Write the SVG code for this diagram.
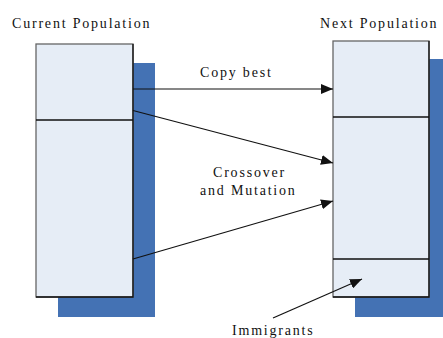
<svg xmlns="http://www.w3.org/2000/svg" width="443" height="338" viewBox="0 0 443 338">
<style>
.t{font-family:'Liberation Serif','Times New Roman','DejaVu Serif',serif;font-size:14px;fill:#111;letter-spacing:1.8px}
.shadow{fill:#4472B4}
.box{fill:#E6EDF6;stroke:#666;stroke-width:1.3}
.edge{stroke:#111;stroke-width:1.3;fill:none}
.c{stroke:#111;stroke-width:1.2;fill:none;marker-end:url(#ah)}
</style>
<defs>
<marker id="ah" viewBox="0 0 12 10" refX="12" refY="5" markerWidth="12" markerHeight="10" markerUnits="userSpaceOnUse" orient="auto">
<path d="M0,0 L12,5 L0,10 z" fill="#111"/>
</marker>
</defs>
<rect width="443" height="338" fill="#fff"/>
<g id="current">
<rect class="shadow" x="58" y="63" width="97" height="254"/>
<rect class="box" x="36" y="44" width="97" height="253"/>
<path class="edge" d="M133,44 V297 H36 M36,120 H133"/>
<text class="t" x="12" y="28">Current Population</text>
</g>
<g id="next">
<rect class="shadow" x="355" y="59" width="90" height="258"/>
<rect class="box" x="333" y="41" width="96" height="256"/>
<path class="edge" d="M429,41 V297 H333 M333,117 H429 M333,259 H429"/>
<text class="t" x="320" y="28">Next Population</text>
</g>
<g id="connectors">
<line class="c" x1="133" y1="89" x2="333" y2="89"/>
<line class="c" x1="133" y1="110.5" x2="333" y2="163"/>
<line class="c" x1="133" y1="259" x2="333" y2="201"/>
<line class="c" x1="273" y1="318" x2="362" y2="279"/>
</g>
<g id="labels">
<text class="t" x="200" y="77">Copy best</text>
<text class="t" x="213" y="177">Crossover</text>
<text class="t" x="200" y="195">and Mutation</text>
<text class="t" x="232" y="335">Immigrants</text>
</g>
</svg>
